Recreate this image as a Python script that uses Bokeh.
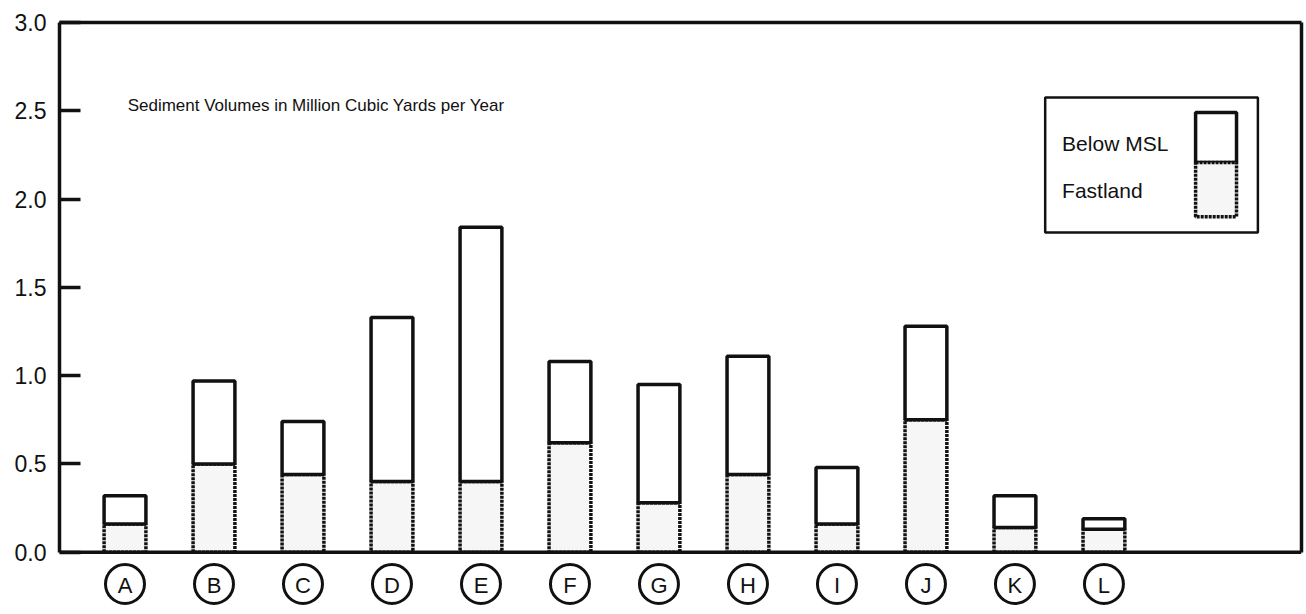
from bokeh.plotting import figure
from bokeh.models import (ColumnDataSource, Range1d, LinearAxis, FixedTicker,
                          Span, Label, BoxAnnotation)
from bokeh.embed import file_html
from bokeh.resources import INLINE
from bokeh.core.properties import value

# Annual sediment volumes (million cubic yards per year) by site
categories = ["A", "B", "C", "D", "E", "F", "G", "H", "I", "J", "K", "L"]
fastland = [0.16, 0.50, 0.44, 0.40, 0.40, 0.62, 0.28, 0.44, 0.16, 0.75, 0.14, 0.13]
below_msl = [0.16, 0.47, 0.30, 0.93, 1.44, 0.46, 0.67, 0.67, 0.32, 0.53, 0.18, 0.06]
y_ticks = [0.0, 0.5, 1.0, 1.5, 2.0, 2.5, 3.0]
y_tick_labels = ["0.0", "0.5", "1.0", "1.5", "2.0", "2.5", "3.0"]

title_text = "Sediment  Volumes in Million Cubic Yards per Year"
legend_labels = ["Below MSL", "Fastland"]

FONT = "Liberation Sans"
INK = "#111111"
FAST_FILL = "#f6f6f6"
LW = 3.5

xs = list(range(len(categories)))
totals = [f + b for f, b in zip(fastland, below_msl)]
src = ColumnDataSource(dict(
    x=xs, cat=categories, fast=fastland, total=totals,
    ring_y=[-0.18] * len(categories),
))

p = figure(width=1306, height=614, output_backend="svg", toolbar_location=None,
           x_range=Range1d(-0.736, 13.22), y_range=Range1d(-0.33, 3.0),
           x_axis_location=None, min_border_left=59, min_border_right=5,
           min_border_top=22, min_border_bottom=4)
p.grid.visible = False
p.outline_line_color = None
p.background_fill_color = "white"
p.border_fill_color = "white"

# left value axis, ticks pointing into the plot
ax = p.yaxis[0]
ax.bounds = (0, 3)
ax.ticker = FixedTicker(ticks=y_ticks)
ax.major_label_overrides = {t: s for t, s in zip(y_ticks, y_tick_labels)}
ax.major_tick_in = 21
ax.major_tick_out = 0
ax.major_tick_line_width = LW
ax.major_tick_line_color = INK
ax.minor_tick_line_color = None
ax.axis_line_width = LW
ax.axis_line_color = INK
ax.major_label_standoff = 13
ax.major_label_text_font = FONT
ax.major_label_text_font_size = "23px"
ax.major_label_text_color = INK

# top and right frame lines
top_ax = LinearAxis(ticker=FixedTicker(ticks=[]), axis_line_width=LW,
                    axis_line_color=INK, major_label_text_font_size="0px",
                    major_tick_line_color=None, minor_tick_line_color=None)
p.add_layout(top_ax, "above")
right_ax = LinearAxis(ticker=FixedTicker(ticks=[]), bounds=(0, 3), axis_line_width=LW,
                      axis_line_color=INK, major_label_text_font_size="0px",
                      major_tick_line_color=None, minor_tick_line_color=None)
p.add_layout(right_ax, "right")

# stacked bars: fastland at the bottom, below-MSL on top
p.vbar(x="x", width=0.47, bottom=0, top="fast", source=src,
       fill_color=FAST_FILL, line_color=INK, line_width=LW, line_dash="3 1")
p.vbar(x="x", width=0.47, bottom="fast", top="total", source=src,
       fill_color="white", line_color=INK, line_width=LW)

# baseline
p.add_layout(Span(location=0, dimension="width", line_color=INK, line_width=LW))

# circled site letters under each bar
p.scatter(x="x", y="ring_y", source=src, marker="circle", size=39,
          fill_color=None, line_color=INK, line_width=3)
p.text(x="x", y="ring_y", text="cat", source=src, text_align="center",
       text_baseline="middle", text_font=value(FONT),
       text_font_size="22px", text_color=INK, y_offset=1)

# chart caption inside the plot
p.add_layout(Label(x=0.03, y=2.53, text=title_text, text_font=FONT,
                   text_font_size="17px", text_color=INK,
                   text_baseline="alphabetic"))

# hand-built key box
p.add_layout(BoxAnnotation(left=10.34, right=12.73, bottom=1.811, top=2.575,
                           fill_color="white", fill_alpha=1.0,
                           line_color=INK, line_alpha=1.0, line_width=2.5))
p.add_layout(BoxAnnotation(left=12.03, right=12.49, bottom=2.207, top=2.49,
                           fill_color="white", fill_alpha=1.0,
                           line_color=INK, line_alpha=1.0, line_width=LW))
p.add_layout(BoxAnnotation(left=12.03, right=12.49, bottom=1.90, top=2.207,
                           fill_color=FAST_FILL, fill_alpha=1.0,
                           line_color=INK, line_alpha=1.0, line_width=LW,
                           line_dash="3 1"))
for lbl, ly in zip(legend_labels, [2.315, 2.049]):
    p.add_layout(Label(x=10.53, y=ly, text=lbl, text_font=FONT,
                       text_font_size="21px", text_color=INK,
                       text_baseline="middle"))

open("out.html", "w").write(file_html(p, INLINE))
